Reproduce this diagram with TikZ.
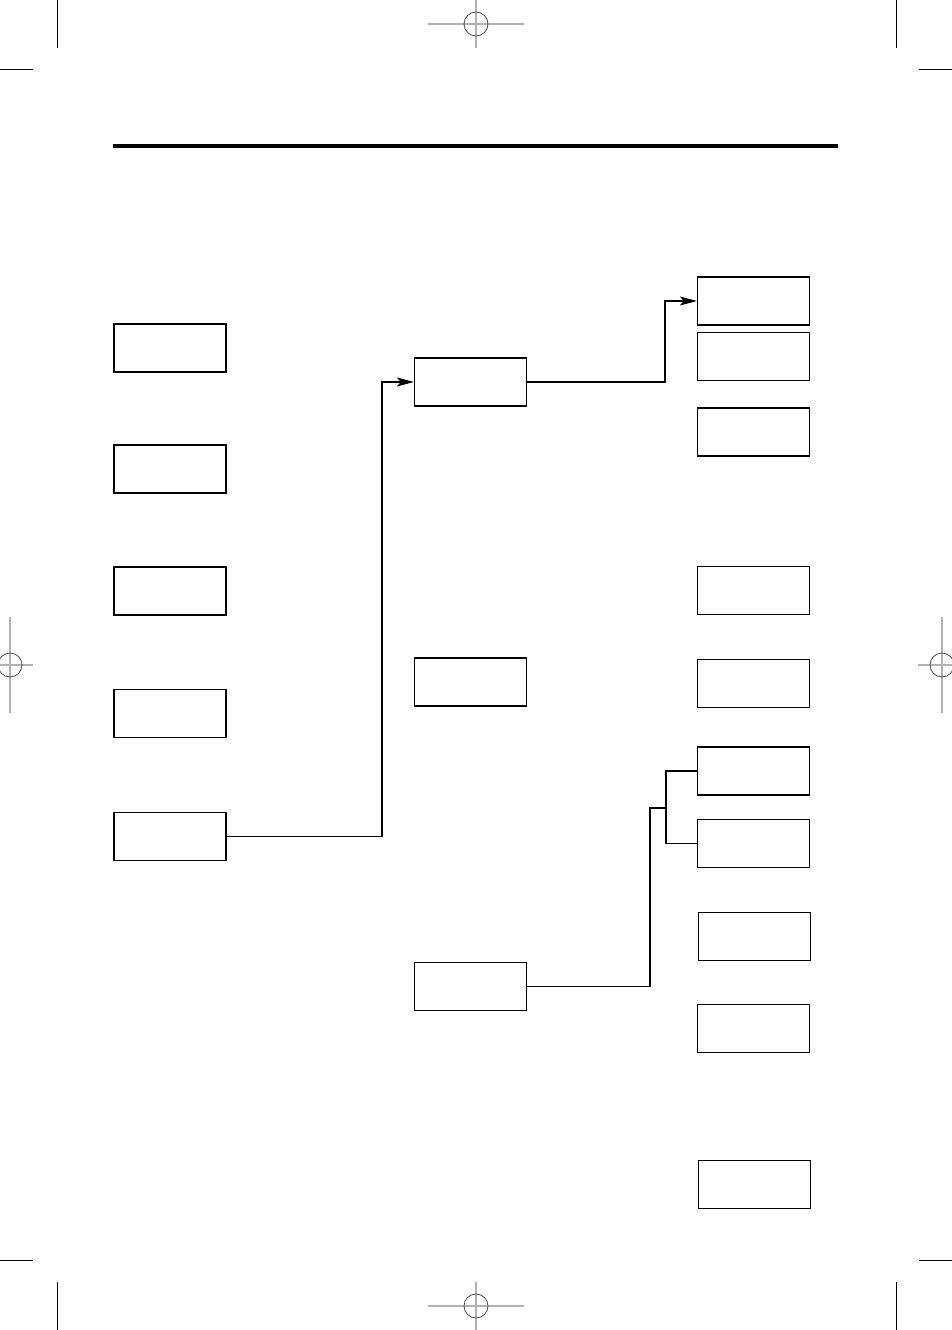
\documentclass[tikz,border=0pt]{standalone}
\usepackage{tikz}
\usetikzlibrary{arrows.meta}
\usetikzlibrary{positioning}

\begin{document}
\begin{tikzpicture}[x=1pt, y=-1pt, >={Stealth[length=17pt, width=9pt, inset=4pt]},
  panel/.style={draw, line width=1.3pt, minimum width=112pt, minimum height=48pt, inner sep=0pt},
  link/.style={line width=1.1pt},
  cropline/.style={line width=1pt},
  regline/.style={line width=1.6pt, gray!60},
  regcircle/.style={line width=0.8pt, black!70}]
  \useasboundingbox (0,0) rectangle (952,1330);

  % ===== Crop and registration marks =====
  \draw[cropline] (57,0) -- (57,48);
  \draw[cropline] (896,0) -- (896,48);
  \draw[cropline] (0,70) -- (33,70);
  \draw[cropline] (919,70) -- (952,70);
  \draw[cropline] (57,1282) -- (57,1330);
  \draw[cropline] (896,1282) -- (896,1330);
  \draw[cropline] (0,1260) -- (33,1260);
  \draw[cropline] (919,1260) -- (952,1260);
  % top, bottom, left, right targets
  \foreach \cx/\cy in {476/24, 476/1306} {
    \draw[regline] (\cx-48,\cy) -- (\cx+48,\cy);
    \draw[regline] (\cx,\cy-24) -- (\cx,\cy+24);
    \draw[regcircle] (\cx,\cy) circle (12);
  }
  \foreach \cx/\lo/\hi in {10/0/33, 942/918/952} {
    \draw[regline] (\lo,665) -- (\hi,665);
    \draw[regline] (\cx,617) -- (\cx,713);
    \draw[regcircle] (\cx,665) circle (12);
  }

  % Heading rule
  \draw[line width=4pt] (113,146) -- (838,146);

  % ===== Left column =====
  \node[panel] (left1) at (170,348) {};
  \node[panel] (left2) at (170,469) {};
  \node[panel] (left3) at (170,591) {};
  \node[panel] (left4) at (170,713.5) {};
  \node[panel] (left5) at (170,836.5) {};

  % ===== Middle column =====
  \node[panel] (mid1) at (470.5,382) {};
  \node[panel] (mid2) at (470.5,682) {};
  \node[panel] (mid3) at (470.5,986.5) {};

  % ===== Right column =====
  \node[panel] (right1) at (753.5,301) {};
  \node[panel] (right2) at (753.5,356.5) {};
  \node[panel] (right3) at (753.5,432) {};
  \node[panel] (right4) at (753.5,590.5) {};
  \node[panel] (right5) at (753.5,683.5) {};
  \node[panel] (right6) at (753.5,771) {};
  \node[panel] (right7) at (753.5,843.5) {};
  \node[panel] (right8) at (754.5,936.5) {};
  \node[panel] (right9) at (753.5,1028.5) {};
  \node[panel] (right10) at (754.5,1184.5) {};

  % Connectors
  \coordinate (bendA) at (382,0);
  \coordinate (bendB) at (665,0);
  \coordinate (bendC) at (650,0);
  \coordinate (fork) at (666,808);
  \draw[link, ->] (left5.east) -- (left5.east -| bendA) |- (mid1.west);
  \draw[link, ->] (mid1.east) -- (mid1.east -| bendB) |- (right1.west);
  \draw[link] (mid3.east) -- (mid3.east -| bendC) |- (fork);
  \draw[link] (right6.west) -| (fork) |- (right7.west);
\end{tikzpicture}
\end{document}
